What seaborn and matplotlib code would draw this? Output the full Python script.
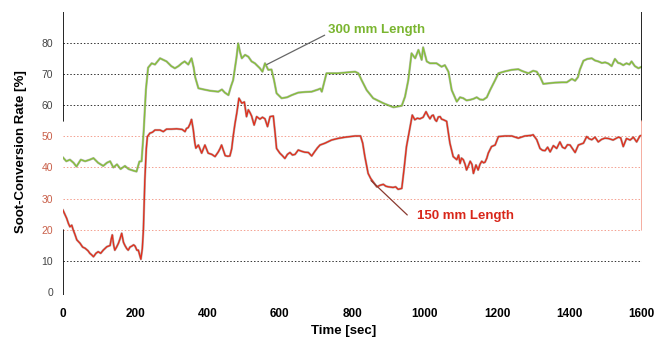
import numpy as np
import pandas as pd
import matplotlib
matplotlib.use("Agg")
import matplotlib.pyplot as plt
import matplotlib.patheffects as pe
import seaborn as sns

# ---------------- data ----------------
t_300 = [0, 10, 20, 30, 38, 50, 62, 75, 85, 98, 112, 122, 131, 140, 150, 160, 172, 182, 195, 204,
         212, 218, 224, 230, 236, 246, 255, 269, 278, 287, 300, 310, 320, 329, 337, 347, 356, 362,
         366, 375, 390, 407, 430, 440, 448, 458, 465, 471, 480, 485, 490, 495, 504, 513, 522, 531,
         545, 552, 559, 568, 577, 584, 591, 605, 620, 633, 651, 670, 688, 706, 712, 716, 722, 729,
         760, 790, 808, 817, 826, 840, 858, 886, 914, 937, 946, 955, 964, 974, 983, 992, 996, 1006,
         1015, 1033, 1047, 1056, 1066, 1075, 1089, 1098, 1107, 1116, 1126, 1135, 1144, 1153, 1162,
         1172, 1181, 1195, 1204, 1222, 1241, 1259, 1268, 1277, 1287, 1300, 1310, 1319, 1328, 1345,
         1360, 1380, 1393, 1407, 1416, 1424, 1429, 1439, 1450, 1462, 1471, 1480, 1490, 1499, 1508,
         1517, 1526, 1535, 1540, 1549, 1558, 1566, 1572, 1581, 1591, 1600]
v_300 = [43.3, 42, 42.5, 41.5, 40.3, 42.5, 42, 42.5, 43, 41.5, 40.5, 41.5, 42, 40, 41, 39.5, 40.5,
         39.5, 39, 38.7, 41.9, 42, 52, 65, 72, 73.4, 73, 75, 74.5, 74, 72.5, 71.8, 72.5, 73.4, 74,
         73, 75, 72, 69, 65.4, 65, 64.6, 64.3, 65, 64, 63.2, 66, 68, 75, 79.8, 77, 75, 76.1, 75.5,
         74, 73.4, 71.8, 70.7, 73.4, 71.3, 71.4, 68, 63.8, 62.2, 62.5, 63.2, 64, 64.2, 64.3, 65,
         65.3, 64.3, 67, 70.2, 70.2, 70.5, 70.7, 70.2, 68, 64.8, 62.2, 60.6, 59.3, 59.8, 62.7, 68,
         76.6, 75, 77.7, 74.5, 78.5, 74, 73.4, 73.4, 72.3, 72.8, 70.7, 64.8, 61.1, 62.5, 62.2, 61.5,
         61.7, 62, 62.5, 61.8, 61.7, 62.5, 64.8, 68, 70.2, 70.8, 71.3, 71.5, 71, 70.6, 70.2, 71,
         70.7, 69.1, 66.8, 67, 67.2, 67.3, 67.3, 68.4, 67.8, 69, 71.3, 74.2, 74.8, 75, 74.3, 74,
         73.5, 73.7, 73.3, 72.5, 74.8, 73.5, 73.4, 72.8, 73.4, 73, 74, 72.5, 71.8, 72.3]

t_150 = [0, 6, 11, 16, 20, 25, 29, 34, 39, 48, 55, 62, 70, 75, 80, 85, 92, 98, 105, 112, 122, 131,
         134, 137, 141, 144, 149, 154, 158, 163, 168, 172, 177, 181, 186, 191, 196, 200, 205, 209,
         214, 216, 220, 223, 227, 231, 234, 241, 248, 255, 269, 278, 287, 300, 315, 330, 338, 342,
         347, 352, 356, 361, 365, 368, 375, 384, 393, 402, 412, 421, 430, 435, 439, 444, 449, 456,
         462, 467, 471, 476, 481, 487, 495, 502, 508, 513, 518, 522, 529, 536, 545, 552, 559, 566,
         573, 582, 587, 591, 600, 607, 614, 621, 628, 635, 642, 651, 660, 669, 679, 688, 697, 704,
         711, 725, 743, 760, 780, 808, 823, 829, 835, 844, 851, 858, 868, 877, 886, 893, 900, 913,
         920, 927, 937, 943, 950, 960, 966, 973, 980, 987, 996, 1004, 1010, 1015, 1020, 1024, 1029,
         1033, 1038, 1043, 1047, 1052, 1061, 1070, 1079, 1089, 1094, 1098, 1102, 1107, 1112, 1116,
         1121, 1126, 1131, 1135, 1142, 1148, 1153, 1158, 1163, 1167, 1172, 1176, 1185, 1195, 1204,
         1222, 1241, 1259, 1277, 1295, 1300, 1310, 1319, 1326, 1333, 1340, 1347, 1356, 1365, 1374,
         1381, 1388, 1395, 1402, 1409, 1416, 1425, 1439, 1448, 1455, 1462, 1471, 1480, 1489, 1498,
         1508, 1521, 1535, 1542, 1549, 1558, 1568, 1577, 1586, 1595, 1600]
v_150 = [26.5, 25, 23.7, 22, 21, 21.5, 20, 18.5, 16.8, 15.7, 14.5, 14.1, 13.3, 12.5, 12, 11.4, 12.5,
         13, 12.5, 13.5, 14.6, 15, 17, 18.4, 15, 13.5, 14.5, 15.7, 17, 18.9, 16, 15, 14, 13.5, 14.5,
         14.8, 15.2, 14.8, 13.5, 13.5, 11.5, 10.6, 14, 20, 36, 46, 49.9, 51, 51.3, 52, 52, 51.5,
         52.3, 52.3, 52.4, 52.2, 51.5, 52.5, 52.8, 54, 55.4, 52, 48, 46.2, 47.2, 44.6, 47.2, 44.6,
         44.2, 43.5, 45, 46.1, 47.2, 45.5, 43.8, 43.6, 43.7, 46, 49.9, 54, 57.4, 62.2, 60.6, 61,
         56.3, 58.5, 57.5, 56.5, 53.6, 56.3, 55.5, 56.1, 55.6, 53.1, 56.3, 56.5, 51, 46.1, 44.6,
         43.8, 42.9, 44.2, 44.8, 44, 44.2, 45.6, 45.2, 44.9, 44.8, 43.7, 45.2, 46.3, 47.2, 47.8,
         48.8, 49.3, 49.7, 50.1, 50.1, 47.8, 43.5, 38.1, 36.5, 35.4, 33.8, 34.3, 34.6, 34, 33.8,
         33.6, 33.8, 33, 33.3, 39.2, 46.7, 53.1, 56.8, 55.3, 55.8, 55.6, 56.1, 57.9, 56.5, 55.6,
         56.6, 56.8, 55.3, 54.8, 56.2, 56.3, 55.5, 55.3, 54.8, 47.8, 43.5, 42.5, 44, 41.3, 43, 42.5,
         41, 39.2, 40.5, 42, 41, 38.1, 40.8, 39.2, 41, 42, 41.5, 41.7, 43, 44.6, 46.7, 47.2, 49.9,
         50.1, 50.1, 49.4, 50.1, 50.3, 50.5, 48.9, 46.1, 45.5, 45.4, 46.5, 45, 47, 46.1, 48.2, 46.5,
         46.1, 47.3, 47.2, 46, 44.8, 47.2, 47.8, 49.9, 49.2, 48.9, 49.7, 48.2, 49, 49.4, 49.3, 48.8,
         49.7, 49.5, 46.7, 49.3, 48.8, 49.7, 48.2, 50.1, 50.3]

x_ticks = [0, 200, 400, 600, 800, 1000, 1200, 1400, 1600]
y_ticks = [0, 10, 20, 30, 40, 50, 60, 70, 80]
label_300 = "300 mm Length"
label_150 = "150 mm Length"

# ---------------- style ----------------
sns.set_style("white")
plt.rcParams['font.family'] = ['Liberation Sans', 'DejaVu Sans']

GREEN = "#86bf3a"
GREEN_TXT = "#7ab530"
RED = "#e0301e"
RED_TXT = "#d8261a"
RED_GRID = "#f4a090"
GRAY_TXT = "#444444"
RED_TICK = "#c9604a"

fig = plt.figure(figsize=(6.58, 3.40), dpi=100)
ax = fig.add_axes([62.7 / 658, (340 - 295.4) / 340, 579 / 658, 283.9 / 340])

df300 = pd.DataFrame({"t": t_300, "v": v_300})
df150 = pd.DataFrame({"t": t_150, "v": v_150})

ymin, ymax = -1, 90

# grid lines
for yv in [10, 60, 70, 80, 90]:
    ax.axhline(yv, color="#333333", lw=0.7, ls=(0, (1.5, 2.0)), zorder=1)
for yv in [20, 30, 40, 50]:
    ax.axhline(yv, color=RED_GRID, lw=0.7, ls=(0, (1.5, 2.0)), zorder=1)

outline = [pe.Stroke(linewidth=1.7, foreground="#555555", alpha=0.4), pe.Normal()]
sns.lineplot(data=df300, x="t", y="v", ax=ax, color=GREEN, lw=1.0, zorder=3,
             path_effects=outline)
sns.lineplot(data=df150, x="t", y="v", ax=ax, color=RED, lw=1.0, zorder=3,
             path_effects=outline)

ax.set_xlim(0, 1600)
ax.set_ylim(ymin, ymax)

def frac(v):
    return (v - ymin) / (ymax - ymin)

for s in ax.spines.values():
    s.set_visible(False)
# composite-style partial spines
ax.axvline(0, ymin=frac(-1), ymax=frac(20), color="black", lw=1.2, zorder=4)
ax.axvline(0, ymin=frac(55), ymax=frac(90), color="black", lw=1.2, zorder=4)
ax.axvline(1600, ymin=frac(55), ymax=frac(90), color="black", lw=1.2, zorder=4)
ax.axvline(1600, ymin=frac(20), ymax=frac(55), color=RED_GRID, lw=1.2, zorder=4)

ax.set_xticks(x_ticks)
ax.set_xticklabels([str(v) for v in x_ticks], fontweight="bold", fontsize=8.5)
ax.set_yticks(y_ticks)
ax.set_yticklabels([str(v) for v in y_ticks], fontsize=7.5)
for lab, v in zip(ax.get_yticklabels(), y_ticks):
    lab.set_color(RED_TICK if 20 <= v <= 50 else GRAY_TXT)
ax.tick_params(axis="x", direction="out", length=2, width=0.8, pad=7, colors="black")
ax.tick_params(axis="y", direction="out", length=2, width=0.8, pad=5)
ax.set_xlabel("")
ax.set_ylabel("")

fig.text(21 / 658, 1 - 152 / 340, "Soot-Conversion Rate [%]", rotation=90,
         ha="center", va="center", fontsize=9.5, fontweight="bold", color="black")
fig.text(344 / 658, 1 - 331 / 340, "Time [sec]", ha="center", va="center",
         fontsize=9.5, fontweight="bold", color="black")

ax.annotate(label_300, xy=(564, 73.0), xytext=(733, 84.1), fontsize=9.5,
            fontweight="bold", color=GREEN_TXT, va="center", ha="left",
            arrowprops=dict(arrowstyle="-", color="#666666", lw=0.9,
                            shrinkA=0, shrinkB=0, relpos=(0, 0.2)))
ax.annotate(label_150, xy=(852, 35.8), xytext=(979, 24.4), fontsize=9.5,
            fontweight="bold", color=RED_TXT, va="center", ha="left",
            arrowprops=dict(arrowstyle="-", color="#8a3a30", lw=0.9,
                            shrinkA=0, shrinkB=0, relpos=(-0.1, 0.6)))

fig.savefig("out.png", dpi=100)
